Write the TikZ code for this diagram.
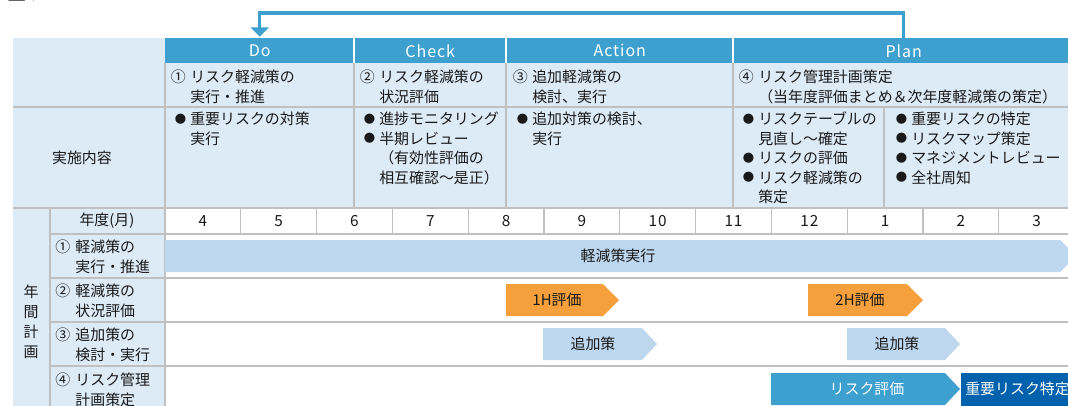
\documentclass[tikz,border=0pt]{standalone}
\usepackage{fontspec}
\setmainfont{Noto Sans CJK JP}
\newfontfamily\hdfont[LetterSpace=6]{Noto Sans CJK JP}
\usetikzlibrary{arrows.meta}
\definecolor{hdrblue}{RGB}{62,160,206}
\definecolor{lightbg}{RGB}{221,235,247}
\definecolor{barlight}{RGB}{189,215,238}
\definecolor{barorange}{RGB}{245,160,60}
\definecolor{darkblue}{RGB}{0,98,172}
\definecolor{gridc}{RGB}{192,192,192}
\definecolor{txt}{RGB}{25,25,25}
\newcommand\blk[1]{\begin{tabular}[t]{@{}l@{}}#1\end{tabular}}
\newcommand\mk[2]{\makebox[1.3em][l]{#1}#2}
\newcommand\mkb[2]{\makebox[1.35em][l]{#1}#2}
\newcommand\bul{\makebox[1.3em][c]{\raisebox{0.9pt}{\fontsize{8.5}{10}\selectfont ●}}}
\begin{document}
\begin{tikzpicture}[x=0.75pt,y=-0.75pt,
  every node/.style={font=\fontsize{11.2}{14.6}\selectfont, text=txt, inner sep=0pt},
  grid/.style={draw=gridc, line width=0.9pt},
  hdr/.style={fill=hdrblue, text=white, font=\hdfont\fontsize{12}{14}\selectfont, anchor=north west, minimum height=18.75pt},
  flow/.style={draw=hdrblue, line width=2.3pt, -{Triangle[width=13.5pt,length=7pt]}},
  lbl/.style={anchor=base west},
  num/.style={font=\hdfont\fontsize{11.5}{14}\selectfont},
  wtxt/.style={text=white}]
\path[use as bounding box] (0,0) rectangle (1068,405);
\clip (0,0) rectangle (1068,405);
\fill[white] (0,0) rectangle (1068,405);
% title fragment
\node[anchor=base west, font=\fontsize{19}{19}\selectfont\bfseries, text=black] (title) at (0,-0.5) {理フロー};
% backgrounds
\fill[lightbg] (13,38) rectangle (1074,208);
\fill[lightbg] (13,208) rectangle (165,410);
% header cells
\node[hdr, minimum width=141.75pt] (do) at (165,38) {Do};
\node[hdr, minimum width=114pt] (check) at (354,38) {Check};
\node[hdr, minimum width=170.25pt] (action) at (506,38) {Action};
\node[hdr, minimum width=255.75pt] (plan) at (733,38) {Plan};
\foreach \xx in {354,506,733} \draw[white, line width=0.9pt] (\xx,38) -- (\xx,63);
% grid upper
\foreach \xx in {354,506,733} \draw[grid] (\xx,63) -- (\xx,208);
\draw[grid] (884,107) -- (884,208);
\draw[grid] (165,63) -- (165,410);
\draw[grid] (13,107) -- (1074,107);
\draw[grid] (13,208) -- (1074,208);
% grid lower
\draw[grid] (50,208) -- (50,410);
\foreach \yy in {234,278,322,366} \draw[grid] (50,\yy) -- (1074,\yy);
\foreach \k in {1,...,11} \draw[grid] ({165+75.8*\k},208) -- ({165+75.8*\k},234);
% connector
\coordinate (top) at (0,13);
\draw[flow] (plan.north) -- (plan.north |- top) -| ([yshift=1pt]do.north);
% row 2 texts
\node[lbl] (t1) at (170.6,82.6) {\blk{\mk{①}{リスク軽減策の}\\\mk{}{実行・推進}}};
\node[lbl] (t2) at (359.6,82.6) {\blk{\mk{②}{リスク軽減策の}\\\mk{}{状況評価}}};
\node[lbl] (t3) at (512.6,82.6) {\blk{\mk{③}{追加軽減策の}\\\mk{}{検討、実行}}};
\node[lbl] (t4) at (738.6,82.6) {\blk{\mk{④}{リスク管理計画策定}\\\mk{}{（当年度評価まとめ＆次年度軽減策の策定）}}};
% row 3 texts
\node (c0) at (82,158) {実施内容};
\node[lbl] (c1) at (170.6,124.6) {\blk{\bul 重要リスクの対策\\\mk{}{実行}}};
\node[lbl] (c2) at (359.6,124.6) {\blk{\bul 進捗モニタリング\\\bul 半期レビュー\\\mk{}{（有効性評価の}\\\mk{}{相互確認～是正）}}};
\node[lbl] (c3) at (512.6,124.6) {\blk{\bul 追加対策の検討、\\\mk{}{実行}}};
\node[lbl] (c4) at (738.6,124.6) {\blk{\bul リスクテーブルの\\\mk{}{見直し～確定}\\\bul リスクの評価\\\bul リスク軽減策の\\\mk{}{策定}}};
\node[lbl] (c5) at (891.6,124.6) {\blk{\bul 重要リスクの特定\\\bul リスクマップ策定\\\bul マネジメントレビュー\\\bul 全社周知}};
% lower labels
\node[align=center, font=\fontsize{11.2}{15}\selectfont] (nk) at (31,322) {年\\間\\計\\画};
\node (yr) at (107,221) {年度(月)};
\node[lbl] (r1) at (55,252.6) {\blk{\mkb{①}{軽減策の}\\\mkb{}{実行・推進}}};
\node[lbl] (r2) at (55,296.6) {\blk{\mkb{②}{軽減策の}\\\mkb{}{状況評価}}};
\node[lbl] (r3) at (55,340.6) {\blk{\mkb{③}{追加策の}\\\mkb{}{検討・実行}}};
\node[lbl] (r4) at (55,385.6) {\blk{\mkb{④}{リスク管理}\\\mkb{}{計画策定}}};
% months
\foreach \m [count=\i from 0] in {4,5,6,7,8,9,10,11,12,1,2,3}
  \node[num] (m\i) at ({165+75.8*(\i+0.5)},221) {\m};
% bars
\fill[barlight] (165,240) -- (1060,240) -- (1076,256) -- (1060,272) -- (165,272) -- cycle;
\node (b1) at (618,256) {軽減策実行};
\fill[barorange] (506,284) -- (603,284) -- (619,300) -- (603,316) -- (506,316) -- cycle;
\node (b2) at (557,300) {1H評価};
\fill[barorange] (808,284) -- (907,284) -- (923,300) -- (907,316) -- (808,316) -- cycle;
\node (b3) at (860,300) {2H評価};
\fill[barlight] (543,328) -- (642,328) -- (657,344) -- (642,360) -- (543,360) -- cycle;
\node (b4) at (593,344) {追加策};
\fill[barlight] (847,328) -- (945,328) -- (960,344) -- (945,360) -- (847,360) -- cycle;
\node (b5) at (897,344) {追加策};
\fill[hdrblue] (771,373) -- (945,373) -- (960,389) -- (945,405) -- (771,405) -- cycle;
\node[wtxt] (b6) at (867,389) {リスク評価};
\fill[darkblue] (961,373) rectangle (1074,410);
\node[wtxt, anchor=west] (b7) at (965,389) {重要リスク特定};
\end{tikzpicture}
\end{document}
